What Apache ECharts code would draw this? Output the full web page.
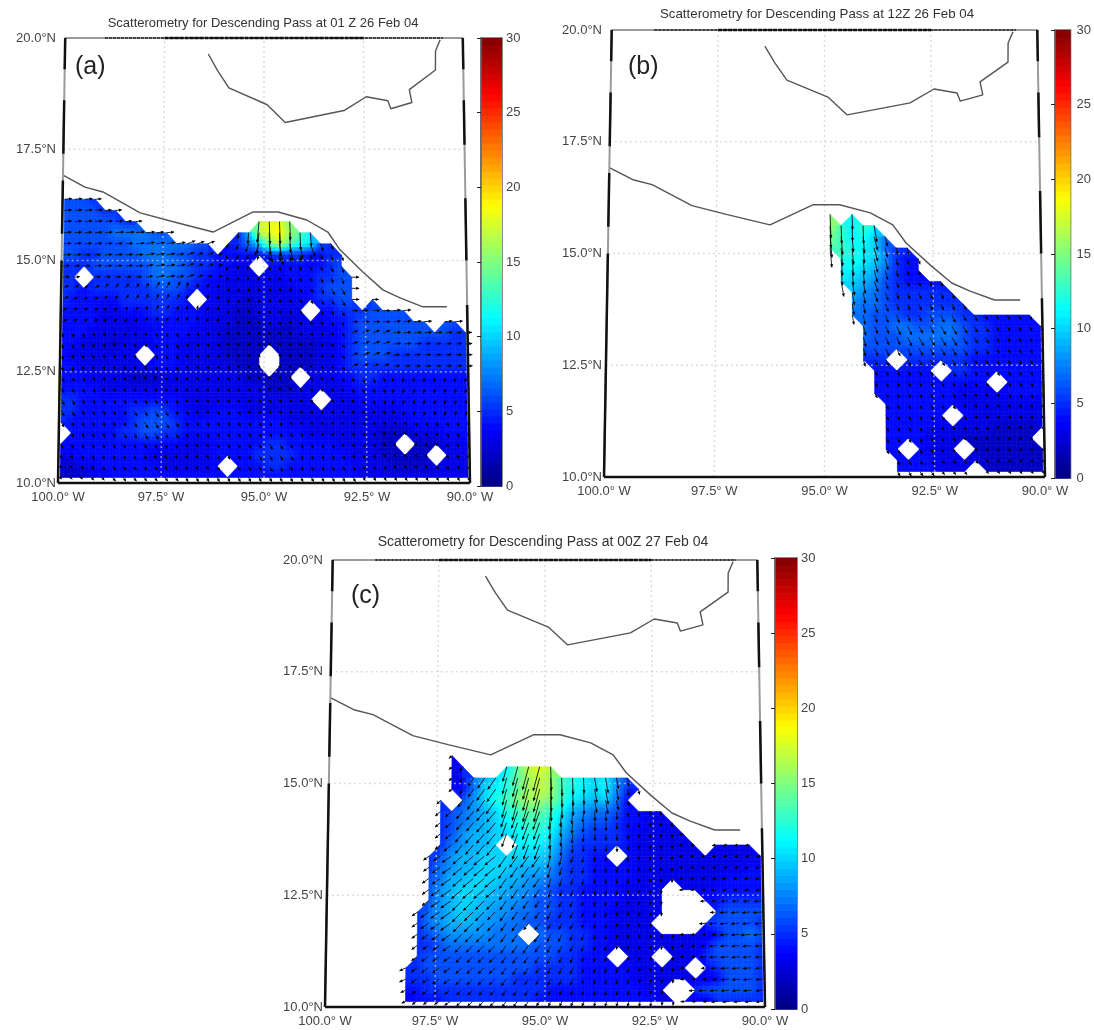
<!DOCTYPE html>
<html lang="en">
<head>
<meta charset="UTF-8">
<title>Scatterometry for Descending Pass</title>
<script src="https://cdn.jsdelivr.net/npm/echarts@6/dist/echarts.min.js"></script>
<style>
html,body{margin:0;padding:0;background:#fff}
#chart{width:1094px;height:1030px}
</style>
</head>
<body>
<div id="chart"></div>
<script>
// wind speed, m/s, one char per node in base 36, '.' = no data
// each row is [first column, values], top row is 16.375N, 0.25 deg apart
var speedRowsA = [
  [0,'6665'],
  [0,'666655'],
  [0,'66666655...........hiif'],
  [0,'66666777766......59hijgeb'],
  [0,'666666677777766.457afhecb65'],
  [0,'6655666677766554444455554455'],
  [0,'5556666667776554433.44444456'],
  [0,'55.55555677665443333334445566'],
  [0,'55455555566654433333333445666'],
  [0,'5444445555554.433323333345566.5'],
  [0,'444433444554443332233333.445556666'],
  [0,'444433334444443332223323334456666666.66'],
  [0,'4443333334444333222222233334566666666655'],
  [0,'4433323334443333222222222334566666655555'],
  [0,'43333333.44433332222.2222334566655555555'],
  [0,'44333333344433333222.2222334555555555555'],
  [0,'44433332223333333322222.3334455444444444'],
  [0,'4444333333333333333322233333444444444444'],
  [0,'5544444444443333333333333.33344444444444'],
  [0,'5544444556544334443333333333333334444444'],
  [0,'5444444566654444444444333333333333444444'],
  [0,'.444445566554444444444443333333222333444'],
  [0,'444444444444333444445544444333322.222334'],
  [0,'334444444333333444455554444433322222.333'],
  [0,'2233444444333334.44455444444433322223333'],
  [0,'2223344444444444444444444444433333333333']
];
var speedRowsB = [
  [0,''],
  [0,''],
  [20,'h.b'],
  [20,'gdbdc'],
  [20,'fdbca7'],
  [20,'edcba755'],
  [21,'ccba8544'],
  [21,'bba97544'],
  [21,'ba98654444'],
  [22,'9876555555'],
  [22,'87765555555'],
  [22,'77666556665544444'],
  [23,'76677667765544444'],
  [23,'76667777765544444'],
  [23,'66666666665544444'],
  [23,'555.5555554444444'],
  [24,'444444.554444444'],
  [24,'44444444444.4444'],
  [24,'4444444433334444'],
  [25,'444444433333333'],
  [25,'444444.43333333'],
  [25,'444443333322223'],
  [25,'44443332222222'],
  [25,'44.4333.2222222'],
  [26,'44443333222222'],
  [26,'4444333.222222']
];
var speedRowsC = [
  [0,''],
  [0,''],
  [0,''],
  [11,'3'],
  [11,'34...behih'],
  [11,'3479aceghgdcbab86'],
  [11,'347abceghgdcbab854'],
  [10,'4.68acdfggfdba9a74'],
  [10,'56789acdeedb987764433'],
  [10,'56789abcddca8766544333'],
  [10,'56899aabccb976555433333'],
  [10,'57899a.bbba8655554333333.3333'],
  [9,'56899aaaaaa975544.4333333333333'],
  [9,'57899aaa99986554444333333333344'],
  [9,'6799aaa998876554444333333334444'],
  [9,'689aaa9988765544443333.33344444'],
  [9,'689aa99887665544443333...445555'],
  [8,'5789a998877665544433333....56666'],
  [8,'5789998877665554443333....566665'],
  [8,'5678888777.766554433333333346676'],
  [8,'55677777777666554433333333466665'],
  [8,'566666666666655444.333.333566665'],
  [7,'55666666666655554444433333.456665'],
  [7,'555666666655555544444333333346665'],
  [7,'445555555555544444444433..5666665'],
  [7,'344455555555444444444443333355555']
];

// wind direction, degrees clockwise from north, 1 deg boxes (rows from the north)
var dirRowsA = [
  [85,85,85,80,185,178,175,170,170,170],
  [85,85,80,70,200,170,160,90,90,90],
  [60,40,30,10,170,160,150,90,85,85],
  [170,160,150,140,150,150,140,70,85,85],
  [150,150,150,150,150,150,150,160,200,200],
  [150,150,150,150,150,150,150,150,150,150],
  [140,140,140,150,150,150,150,150,150,150]
];
var dirRowsB = [
  [170,170,170,170,170,178,170,165,150,150],
  [170,170,170,170,170,175,165,160,150,150],
  [170,170,170,170,170,170,160,155,150,150],
  [170,170,170,170,170,165,155,150,150,150],
  [170,170,170,170,170,160,150,150,150,150],
  [170,170,170,170,170,155,150,150,145,145],
  [170,170,170,170,170,155,150,145,145,145]
];
var dirRowsC = [
  [225,225,225,225,200,180,170,170,170,170],
  [225,225,225,215,195,178,170,170,170,170],
  [235,235,230,220,200,185,178,175,260,260],
  [240,240,235,230,215,195,185,185,265,265],
  [250,245,235,225,215,205,190,185,265,265],
  [255,245,235,225,215,205,195,190,265,265],
  [255,245,235,225,215,205,195,190,265,265]
];

// coast lines, lon / lat
var coastNorth = [[-96.4,19.64],[-96.16,19.26],[-95.88,18.88],[-94.92,18.5],[-94.47,18.1],[-93.0,18.37],[-92.44,18.68],[-91.9,18.59],[-91.83,18.41],[-91.3,18.55],[-91.36,18.84],[-90.7,19.28],[-90.69,19.71],[-90.57,19.96]];
var coastPacific = [[-100,16.92],[-99.45,16.65],[-99,16.54],[-98.07,16.07],[-97.25,15.87],[-96.26,15.64],[-95.27,16.09],[-94.65,16.09],[-93.94,15.91],[-93.42,15.64],[-93.12,15.24],[-92.56,14.74],[-92.07,14.34],[-91.65,14.16],[-91.09,13.96],[-90.5,13.96]];

var lonTicks = [-100,-97.5,-95,-92.5,-90];
var latTicks = [10,12.5,15,17.5,20];
var lonTickLabels = ['100.0° W','97.5° W','95.0° W','92.5° W','90.0° W'];
var latTickLabels = ['10.0°N','12.5°N','15.0°N','17.5°N','20.0°N'];

// stretches of the frame that print solid black, the rest stays grey
var frameLeftBlack = [[20,19.3],[18.6,17.4],[16.8,15.6],[15,10]];
var frameRightBlack = [[20,19.3],[18.6,17.6],[16.4,15],[14,10]];

var panels = [
  {rows:speedRowsA, dirs:dirRowsA, arrow:1.25, box:[58,38,412,445], bar:[481,38,21,448], barMargin:4,
   title:'Scatterometry for Descending Pass at 01 Z 26 Feb 04', tx:258, ty:12, fs:13, tag:'(a)', gx:70, gy:50},
  {rows:speedRowsB, dirs:dirRowsB, arrow:1.4, box:[604,30,441,447], bar:[1055,30,23,448], barMargin:6,
   title:'Scatterometry for Descending Pass at 12Z 26 Feb 04', tx:812, ty:3, fs:13.3, tag:'(b)', gx:623, gy:50},
  {rows:speedRowsC, dirs:dirRowsC, arrow:1.4, box:[325,560,440,447], bar:[775,558,22,451], barMargin:4,
   title:'Scatterometry for Descending Pass at 00Z 27 Feb 04', tx:538, ty:530, fs:14, tag:'(c)', gx:346, gy:579}
];

// the map frame narrows to the north
function skew(lon, lat) {
  return -95 + (lon + 95) * (1 - (lat - 10) / 10 * 0.035);
}
function nodeLon(c) { return -99.95 + 0.254 * c; }
function nodeLat(r) { return 16.375 - 0.25 * r; }

function jet(v) {
  var t = v / 30;
  function ch(x) { return Math.round(255 * Math.max(0, Math.min(1, x))); }
  var r = ch(Math.min(4 * t - 1.5, -4 * t + 4.5));
  var g = ch(Math.min(4 * t - 0.5, -4 * t + 3.5));
  var b = ch(Math.min(4 * t + 0.5, -4 * t + 2.5));
  return 'rgb(' + r + ',' + g + ',' + b + ')';
}

function parseRows(rows) {
  return rows.map(function (row) {
    var out = [];
    for (var c = 0; c < 40; c++) {
      var ch = row[1][c - row[0]];
      out.push(ch === undefined || ch === '.' ? null : parseInt(ch, 36));
    }
    return out;
  });
}

// pcolor style shading: a cell with all corners gets a smooth fill, three corners a triangle
var SHADE = 3;
function cellRenderer(grid) {
  return function (params, api) {
    var c = api.value(2), r = api.value(3);
    var corners = [[c, r], [c + 1, r], [c + 1, r + 1], [c, r + 1]].map(function (n) {
      var v = grid[n[1]] ? grid[n[1]][n[0]] : null;
      var la = nodeLat(n[1]);
      return v === null || v === undefined ? null : {p: api.coord([skew(nodeLon(n[0]), la), la]), v: v};
    });
    var have = corners.filter(Boolean);
    var kids = [];
    function poly(pts, v) {
      kids.push({type: 'polygon', shape: {points: pts}, style: {fill: jet(v), stroke: jet(v), lineWidth: 0.6}});
    }
    if (have.length === 3) {
      poly(have.map(function (h) { return h.p; }), (have[0].v + have[1].v + have[2].v) / 3);
    } else if (have.length === 4) {
      var at = function (u, w) {
        return [0, 1].map(function (k) {
          return (1 - w) * ((1 - u) * have[0].p[k] + u * have[1].p[k]) + w * ((1 - u) * have[3].p[k] + u * have[2].p[k]);
        });
      };
      var val = function (u, w) {
        return (1 - w) * ((1 - u) * have[0].v + u * have[1].v) + w * ((1 - u) * have[3].v + u * have[2].v);
      };
      for (var i = 0; i < SHADE; i++) {
        for (var j = 0; j < SHADE; j++) {
          var u0 = i / SHADE, u1 = (i + 1) / SHADE, w0 = j / SHADE, w1 = (j + 1) / SHADE;
          poly([at(u0, w0), at(u1, w0), at(u1, w1), at(u0, w1)], val((u0 + u1) / 2, (w0 + w1) / 2));
        }
      }
    }
    return {type: 'group', children: kids};
  };
}

function arrowRenderer(scale) {
  return function (params, api) {
    var p = api.coord([api.value(0), api.value(1)]);
    var len = api.value(2) * scale, ang = api.value(3) * Math.PI / 180;
    var ux = Math.sin(ang), uy = -Math.cos(ang);
    var tip = [p[0] + ux * len, p[1] + uy * len];
    var hl = 3, hw = 1.6;
    var bx = tip[0] - ux * hl, by = tip[1] - uy * hl;
    return {type: 'group', children: [
      {type: 'line', shape: {x1: p[0], y1: p[1], x2: tip[0], y2: tip[1]}, style: {stroke: '#111', lineWidth: 0.9}},
      {type: 'polygon', shape: {points: [tip, [bx - uy * hw, by + ux * hw], [bx + uy * hw, by - ux * hw]]}, style: {fill: '#000'}}
    ]};
  };
}

function barRenderer(params, api) {
  var lo = api.coord([0, api.value(1)]), hi = api.coord([1, api.value(2)]);
  return {type: 'rect', shape: {x: lo[0], y: hi[1], width: hi[0] - lo[0], height: lo[1] - hi[1] + 0.6}, style: {fill: jet(api.value(3))}};
}

function tickText(list, ticks, value) {
  var i = ticks.indexOf(value);
  return i < 0 ? '' : list[i];
}

function lineSeries(idx, data, style, z) {
  return {type: 'line', xAxisIndex: idx, yAxisIndex: idx, symbol: 'none', silent: true, clip: false, z: z, lineStyle: style, data: data};
}

var labelFont = {fontFamily: '"Liberation Sans", Arial, sans-serif', fontSize: 13, color: '#444'};
var dotted = {color: 'rgba(205,205,205,0.7)', width: 1.5, type: [2, 3]};
var option = {animation: false, backgroundColor: '#fff', grid: [], xAxis: [], yAxis: [], title: [], series: []};

panels.forEach(function (pn, idx) {
  var grid = parseRows(pn.rows);
  option.grid.push({left: pn.box[0], top: pn.box[1], width: pn.box[2], height: pn.box[3]});
  option.xAxis.push({
    type: 'value', gridIndex: idx, min: -100, max: -90, interval: 2.5, splitLine: {show: false},
    axisLine: {show: false}, axisTick: {show: false},
    axisLabel: Object.assign({margin: 8, formatter: function (v) { return tickText(lonTickLabels, lonTicks, v); }}, labelFont)
  });
  option.yAxis.push({
    type: 'value', gridIndex: idx, min: 10, max: 20, interval: 2.5, splitLine: {show: false},
    axisLine: {show: false}, axisTick: {show: false},
    axisLabel: Object.assign({margin: 2, formatter: function (v) { return tickText(latTickLabels, latTicks, v); }}, labelFont)
  });
  option.title.push({text: pn.title, left: pn.tx, top: pn.ty, textAlign: 'center',
    textStyle: {fontFamily: labelFont.fontFamily, fontSize: pn.fs, fontWeight: 'normal', color: '#333'}});
  option.title.push({text: pn.tag, left: pn.gx, top: pn.gy,
    textStyle: {fontFamily: labelFont.fontFamily, fontSize: 25, fontWeight: 'normal', color: '#222'}});

  // filled cells
  var quads = [];
  for (var r = 0; r < grid.length - 1; r++) {
    for (var c = 0; c < 39; c++) {
      quads.push([nodeLon(c), nodeLat(r), c, r]);
    }
  }
  option.series.push({type: 'custom', xAxisIndex: idx, yAxisIndex: idx, silent: true, clip: false, z: 2,
    renderItem: cellRenderer(grid), data: quads});

  // dotted graticule
  lonTicks.slice(1, 4).forEach(function (lon) {
    option.series.push(lineSeries(idx, [[skew(lon, 10), 10], [skew(lon, 20), 20]], dotted, 3));
  });
  latTicks.slice(1, 4).forEach(function (lat) {
    option.series.push(lineSeries(idx, [[skew(-100, lat), lat], [skew(-90, lat), lat]], dotted, 3));
  });

  // wind arrows
  var arrows = [];
  grid.forEach(function (row, r) {
    row.forEach(function (v, c) {
      if (v === null) return;
      var la = nodeLat(r);
      var d = pn.dirs[Math.min(6, Math.floor(r / 4))][Math.floor(c / 4)];
      arrows.push([skew(nodeLon(c), la), la, v, d]);
    });
  });
  option.series.push({type: 'custom', xAxisIndex: idx, yAxisIndex: idx, silent: true, clip: false, z: 4,
    renderItem: arrowRenderer(pn.arrow), data: arrows});

  // coast
  [coastNorth, coastPacific].forEach(function (coast) {
    option.series.push(lineSeries(idx, coast.map(function (p) { return [skew(p[0], p[1]), p[1]]; }),
      {color: '#555', width: 1.4}, 5));
  });

  // frame: grey base, black stretches on top
  option.series.push(lineSeries(idx, [[skew(-100, 10), 10], [skew(-100, 20), 20], [skew(-90, 20), 20], [skew(-90, 10), 10]],
    {color: '#9a9a9a', width: 2}, 6));
  frameLeftBlack.forEach(function (s) {
    option.series.push(lineSeries(idx, [[skew(-100, s[0]), s[0]], [skew(-100, s[1]), s[1]]], {color: '#111', width: 2.5}, 7));
  });
  frameRightBlack.forEach(function (s) {
    option.series.push(lineSeries(idx, [[skew(-90, s[0]), s[0]], [skew(-90, s[1]), s[1]]], {color: '#111', width: 2.5}, 7));
  });
  option.series.push(lineSeries(idx, [[skew(-99, 20), 20], [skew(-90.5, 20), 20]], {color: '#222', width: 1.5, type: [3, 1]}, 7));
  option.series.push(lineSeries(idx, [[skew(-97.5, 20), 20], [skew(-92.5, 20), 20]], {color: '#111', width: 2.5, type: [4, 1]}, 7));
  option.series.push(lineSeries(idx, [[skew(-100, 10), 10], [skew(-90, 10), 10]], {color: '#111', width: 2.5}, 7));
});

// colour bars
var barLevels = [];
for (var k = 0; k < 64; k++) {
  barLevels.push([0.5, k * 30 / 64, (k + 1) * 30 / 64, (k + 0.5) * 30 / 64]);
}
panels.forEach(function (pn, idx) {
  var g = panels.length + idx;
  option.grid.push({left: pn.bar[0], top: pn.bar[1], width: pn.bar[2], height: pn.bar[3], show: true, borderColor: '#666', borderWidth: 1.5, backgroundColor: '#fff'});
  option.xAxis.push({type: 'value', gridIndex: g, min: 0, max: 1, show: false});
  option.yAxis.push({
    type: 'value', gridIndex: g, position: 'right', min: 0, max: 30, interval: 5, z: 5, splitLine: {show: false},
    axisLine: {show: true, lineStyle: {color: '#666', width: 1.5}},
    axisTick: {show: true, inside: true, length: 4, lineStyle: {color: '#222'}},
    axisLabel: Object.assign({margin: pn.barMargin}, labelFont)
  });
  option.series.push({type: 'custom', xAxisIndex: g, yAxisIndex: g, silent: true, z: 2, renderItem: barRenderer, data: barLevels});
});

var chart = echarts.init(document.getElementById('chart'), null, {renderer: 'canvas'});
chart.setOption(option);
</script>
</body>
</html>
